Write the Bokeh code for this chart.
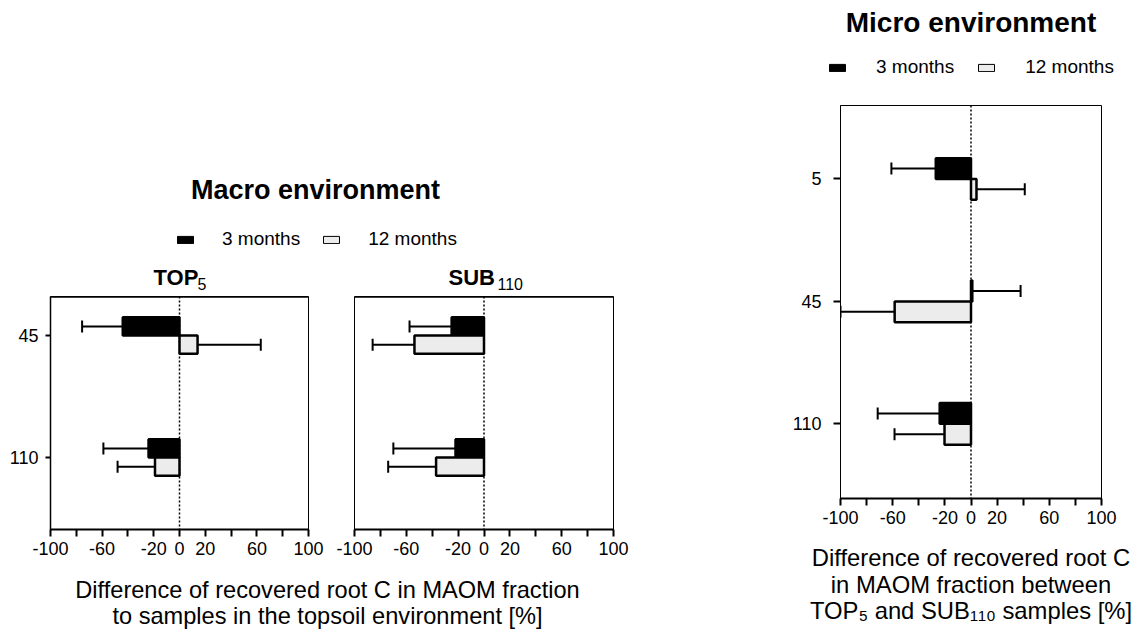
import math
from bokeh.plotting import figure
from bokeh.models import ColumnDataSource, Range1d, FixedTicker, Span, Legend, LegendItem, Spacer
from bokeh.layouts import row, column
from bokeh.core.properties import value
from bokeh.embed import file_html
from bokeh.resources import INLINE

# ---------------- data ----------------
series = ["3 months", "12 months"]

macro_depths = ["45", "110"]
top5_3m = [-44, -24]
top5_3m_err = [31.5, 35]
top5_12m = [14, -19]
top5_12m_err = [49, 29]
sub110_3m = [-25, -22]
sub110_3m_err = [32.5, 48]
sub110_12m = [-53.7, -37]
sub110_12m_err = [32.3, 37]

micro_depths = ["5", "45", "110"]
micro_3m = [-27, 1, -24]
micro_3m_err = [34, 37, 47.5]
micro_12m = [4.2, -58.5, -20.3]
micro_12m_err = [37, 41.5, 38.3]

x_ticks = [-100, -80, -60, -40, -20, 0, 20, 40, 60, 80, 100]
x_tick_labels = ["-100", "", "-60", "", "-20", "0", "20", "", "60", "", "100"]

FONT = "Liberation Sans"
FILL = {"3 months": "black", "12 months": "#ececec"}


def blank_fig(w, h):
    p = figure(width=w, height=h, x_range=Range1d(0, w), y_range=Range1d(h, 0),
               min_border=0, toolbar_location=None, output_backend="svg",
               x_axis_location=None, y_axis_location=None)
    p.grid.visible = False
    p.outline_line_color = None
    p.background_fill_color = "white"
    p.border_fill_color = "white"
    return p


def txt(p, x, y, s, size, bold=False, align="center"):
    # y is the wanted baseline (pixels from the top of the figure)
    yy = y - 0.37 * size
    p.text(x=[x], y=[yy], text=[s], text_font=value(FONT), text_font_size=f"{size}px",
           text_font_style="bold" if bold else "normal", text_align=align,
           text_baseline="alphabetic", text_color="black")


def add_legend(p, x, y, standoff, spacing, src_vals):
    items = []
    for s in series:
        r = p.hbar(y=[0] * len(src_vals), left=0, right=src_vals, height=0.1,
                   fill_color=FILL[s], line_color="black", line_width=1)
        r.visible = False
        items.append(LegendItem(label=s, renderers=[r]))
    lg = Legend(items=items, orientation="horizontal", location=(x, y),
                glyph_width=20, glyph_height=9, label_standoff=standoff, spacing=spacing,
                padding=0, margin=0, border_line_color=None, background_fill_alpha=0,
                label_text_font_size="19px", label_text_font=FONT, label_text_color="black")
    p.add_layout(lg)


def draw_series(p, pos, vals, errs, offset, fill, h):
    y = [q + offset for q in pos]
    ends = [v + (e if v >= 0 else -e) for v, e in zip(vals, errs)]
    src = ColumnDataSource(dict(y=y, val=vals, end=ends))
    p.segment(x0="val", y0="y", x1="end", y1="y", source=src, line_color="black", line_width=2)
    p.scatter(x="end", y="y", marker="dash", angle=math.pi / 2, size=12,
              line_color="black", line_width=2, source=src)
    p.hbar(y="y", left=0, right="val", height=h, fill_color=fill,
           line_color="black", line_width=2.5, source=src)


def panel(w, h, y_lo, y_hi, depths, ml, mr, mt, mb, show_y, thick_top, standoff, tick_out):
    p = figure(width=w, height=h, x_range=Range1d(-100, 100), y_range=Range1d(y_lo, y_hi),
               min_border_left=ml, min_border_right=mr, min_border_top=mt, min_border_bottom=mb,
               toolbar_location=None, output_backend="svg",
               y_axis_location="left" if show_y else None)
    p.grid.visible = False
    p.background_fill_color = "white"
    p.border_fill_color = "white"
    p.outline_line_color = "black"
    p.outline_line_width = 1
    ax = p.xaxis[0]
    ax.ticker = FixedTicker(ticks=x_ticks)
    ax.major_label_overrides = {t: l for t, l in zip(x_ticks, x_tick_labels)}
    ax.minor_tick_line_color = None
    ax.major_tick_in = 0
    ax.major_tick_out = 7
    ax.major_tick_line_width = 2
    ax.axis_line_width = 2
    ax.major_label_standoff = 5
    ax.major_label_text_font_size = "18px"
    ax.major_label_text_font = FONT
    ax.major_label_text_color = "black"
    if show_y:
        pos = [i + 1 for i in range(len(depths))]
        ay = p.yaxis[0]
        ay.ticker = FixedTicker(ticks=pos)
        ay.major_label_overrides = {q: d for q, d in zip(pos, depths)}
        ay.minor_tick_line_color = None
        ay.major_tick_in = 0
        ay.major_tick_out = tick_out
        ay.major_tick_line_width = 2
        ay.axis_line_width = 1.5
        ay.major_label_standoff = standoff
        ay.major_label_text_font_size = "18px"
        ay.major_label_text_font = FONT
        ay.major_label_text_color = "black"
    p.add_layout(Span(location=0, dimension="height", line_color="black",
                      line_dash="2 2", line_width=1.5, level="underlay"))
    if thick_top:
        p.add_layout(Span(location=y_hi, dimension="width", line_color="black", line_width=2.5))
    return p


# ---------------- macro (left) ----------------
macro_pos = [i + 1 for i in range(len(macro_depths))]
HB = 0.15

head_l = blank_fig(633, 292)
txt(head_l, 315, 199, "Macro environment", 27, bold=True)
add_legend(head_l, 175, 42, 27, 21, top5_3m)
txt(head_l, 153, 285, "TOP", 22, bold=True, align="left")
txt(head_l, 197, 289, "5", 16, align="left")
txt(head_l, 448, 285, "SUB", 22, bold=True, align="left")
txt(head_l, 497, 289, "110", 16, align="left")

fig_t = panel(331, 273, 2.59, 0.68, macro_depths, 50, 23, 4, 36, True, True, 7, 5)
draw_series(fig_t, macro_pos, top5_3m, top5_3m_err, -HB / 2, FILL["3 months"], HB)
draw_series(fig_t, macro_pos, top5_12m, top5_12m_err, HB / 2, FILL["12 months"], HB)

fig_s = panel(302, 273, 2.59, 0.68, macro_depths, 23, 20, 4, 36, False, True, 7, 5)
draw_series(fig_s, macro_pos, sub110_3m, sub110_3m_err, -HB / 2, FILL["3 months"], HB)
draw_series(fig_s, macro_pos, sub110_12m, sub110_12m_err, HB / 2, FILL["12 months"], HB)

foot_l = blank_fig(633, 67)
txt(foot_l, 327, 33, "Difference of recovered root C in MAOM fraction", 23.6)
txt(foot_l, 327, 59, "to samples in the topsoil environment [%]", 23.6)

left = column(head_l, row(fig_t, fig_s), foot_l)

# ---------------- micro (right) ----------------
micro_pos = [i + 1 for i in range(len(micro_depths))]
HM = 0.17

head_r = blank_fig(365, 101)
txt(head_r, 200.5, 32, "Micro environment", 28, bold=True)
add_legend(head_r, 57, 23, 29, 22, micro_3m)

fig_m = panel(365, 433, 3.61, 0.40, micro_depths, 70, 34, 4, 36, True, False, 12, 7)
fig_m.yaxis[0].axis_line_width = 1
draw_series(fig_m, micro_pos, micro_3m, micro_3m_err, -HM / 2, FILL["3 months"], HM)
draw_series(fig_m, micro_pos, micro_12m, micro_12m_err, HM / 2, FILL["12 months"], HM)

foot_r = blank_fig(365, 98)
txt(foot_r, 200.5, 32, "Difference of recovered root C", 23.8)
txt(foot_r, 200.5, 59, "in MAOM fraction between", 23.8)
txt(foot_r, 200.5, 85, "TOP\u2085 and SUB\u2081\u2081\u2080 samples [%]", 23.8)

right = column(head_r, row(fig_m), foot_r)

layout = row(left, Spacer(width=137, height=10), right)

open("out.html", "w").write(file_html(layout, INLINE, title="Recovered root C"))
